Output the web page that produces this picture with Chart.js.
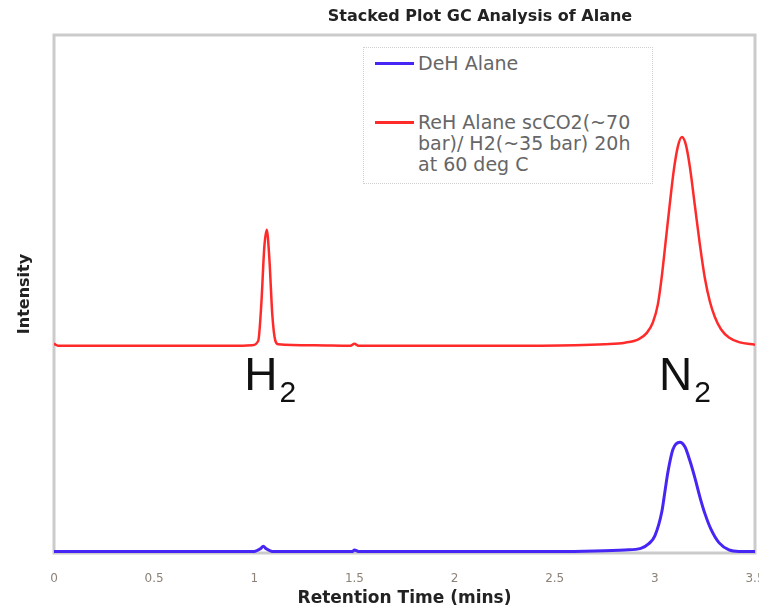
<!DOCTYPE html>
<html lang="en">
<head>
    <meta charset="UTF-8">
    <title>Stacked Plot GC Analysis of Alane</title>
    <script src="https://cdn.jsdelivr.net/npm/chart.js"></script>
    <style>
        * {
            margin: 0;
            padding: 0;
            box-sizing: border-box;
        }
        body {
            background: #fff;
            font-family: 'DejaVu Sans', Verdana, sans-serif;
        }
        .wrap {
            position: relative;
            width: 759px;
            height: 610px;
            overflow: hidden;
        }
        .legend {
            position: absolute;
            left: 363px;
            top: 47px;
            width: 290px;
            height: 137px;
            border: 1px dotted #cfcfcf;
            background: #fff;
            padding: 5px 0 0 11px;
        }
        .legend .item {
            display: flex;
            align-items: flex-start;
            color: #666;
            font-size: 19px;
            line-height: 21px;
            white-space: pre-line;
        }
        .legend .item + .item {
            margin-top: 38px;
        }
        .legend .swatch {
            width: 39px;
            height: 3px;
            margin: 9px 4px 0 0;
            flex: none;
        }
    </style>
</head>
<body>
    <div class="wrap">
        <canvas id="gcChart" width="759" height="610"></canvas>
        <div class="legend" id="legend"></div>
    </div>

    <script>
        // retention time (mins) / intensity
        const dehTimes = [0, 0.5, 1.0, 1.03, 1.045, 1.06, 1.09, 1.3, 1.49, 1.5, 1.52, 2.0, 2.5, 2.7, 2.85,
            2.93, 2.97, 3.0, 3.035, 3.05, 3.065, 3.09, 3.125, 3.15, 3.175, 3.2, 3.225, 3.25, 3.28, 3.32,
            3.37, 3.42, 3.5];
        const dehIntensity = [0.3, 0.3, 0.3, 0.8, 1.3, 0.8, 0.3, 0.3, 0.3, 0.6, 0.3, 0.3, 0.3, 0.4, 0.6,
            0.9, 1.8, 3.3, 8, 11.8, 15.6, 20, 21.4, 20.5, 17.8, 14.5, 10.8, 7.6, 4.6, 2.0,
            0.6, 0.3, 0.3];

        const rehTimes = [0, 0.02, 0.3, 0.6, 0.9, 0.99, 1.02, 1.035, 1.05, 1.062, 1.075, 1.09, 1.105, 1.12,
            1.3, 1.48, 1.5, 1.52, 1.8, 2.2, 2.6, 2.75, 2.85, 2.92, 2.96, 2.99, 3.015, 3.035, 3.055, 3.075,
            3.095, 3.115, 3.135, 3.155, 3.175, 3.2, 3.225, 3.25, 3.275, 3.3, 3.33, 3.37, 3.42, 3.5];
        const rehIntensity = [40.4, 40, 40, 40, 40, 40.1, 41, 48, 59, 62.4, 57, 46, 41, 40.3,
            40.1, 40, 40.4, 40, 40, 40, 40.1, 40.3, 40.6, 41.3, 42.5, 44.5, 48, 53.5, 60.5, 67.5,
            74, 78.5, 80.3, 78.8, 74.5, 67, 59.5, 53, 48.5, 45.5, 43.2, 41.6, 40.7, 40.2];

        const xTicks = [0, 0.5, 1, 1.5, 2, 2.5, 3, 3.5];
        const peakNames = [['H', '2'], ['N', '2']];
        const peakTimes = [1.06, 3.13];

        function toPoints(xs, ys) {
            return xs.map((x, i) => ({ x: x, y: ys[i] }));
        }

        const frameAndText = {
            id: 'frameAndText',
            beforeDatasetsDraw(chart) {
                const { ctx, chartArea } = chart;
                ctx.save();
                ctx.strokeStyle = '#cbcbcb';
                ctx.lineWidth = 3;
                ctx.strokeRect(chartArea.left, chartArea.top, chartArea.width, chartArea.height);
                ctx.restore();
            },
            afterDraw(chart) {
                const { ctx } = chart;
                const xs = chart.scales.x;
                const ys = chart.scales.y;
                ctx.save();
                ctx.fillStyle = '#222';
                ctx.font = 'bold 16px "DejaVu Sans"';
                ctx.textAlign = 'center';
                ctx.textBaseline = 'middle';
                ctx.fillText('Stacked Plot GC Analysis of Alane', 480, 17);

                // peak labels under the red baseline
                const base = ys.getPixelForValue(40);
                ctx.fillStyle = '#111';
                ctx.textBaseline = 'alphabetic';
                peakNames.forEach((name, i) => {
                    const cx = xs.getPixelForValue(peakTimes[i]);
                    ctx.font = '46px "Liberation Sans"';
                    const w1 = ctx.measureText(name[0]).width;
                    ctx.font = '30px "Liberation Sans"';
                    const w2 = ctx.measureText(name[1]).width;
                    const left = cx - (w1 + w2) / 2 + 3;
                    ctx.textAlign = 'left';
                    ctx.font = '46px "Liberation Sans"';
                    ctx.fillText(name[0], left, base + 44);
                    ctx.font = '30px "Liberation Sans"';
                    ctx.fillText(name[1], left + w1 + 2, base + 56);
                });
                ctx.restore();
            }
        };

        const chart = new Chart(document.getElementById('gcChart').getContext('2d'), {
            type: 'line',
            data: {
                datasets: [{
                    label: 'DeH Alane',
                    data: toPoints(dehTimes, dehIntensity),
                    borderColor: '#4626f4',
                    borderWidth: 3,
                    cubicInterpolationMode: 'monotone'
                }, {
                    label: 'ReH Alane scCO2(~70\nbar)/ H2(~35 bar) 20h\nat 60 deg C',
                    data: toPoints(rehTimes, rehIntensity),
                    borderColor: '#ff2b2b',
                    borderWidth: 2.5,
                    cubicInterpolationMode: 'monotone'
                }]
            },
            options: {
                responsive: false,
                animation: false,
                layout: { padding: { top: 35, right: 4, left: 0, bottom: 0 } },
                elements: { point: { radius: 0 } },
                plugins: {
                    legend: { display: false },
                    tooltip: { enabled: false }
                },
                scales: {
                    x: {
                        type: 'linear',
                        min: 0,
                        max: 3.5,
                        afterBuildTicks: (scale) => {
                            scale.ticks = xTicks.map(v => ({ value: v }));
                        },
                        afterFit: (scale) => {
                            scale.height = 57;
                            scale.paddingLeft = 0;
                            scale.paddingRight = 0;
                        },
                        grid: { display: false },
                        border: { display: false },
                        ticks: {
                            color: '#8c8278',
                            padding: 11,
                            maxRotation: 0,
                            callback: (v) => String(v),
                            font: { family: 'DejaVu Sans', size: 12 }
                        },
                        title: {
                            display: true,
                            text: 'Retention Time (mins)',
                            color: '#222',
                            padding: { top: 0, bottom: 1 },
                            font: { family: 'DejaVu Sans', size: 17, weight: 'bold' }
                        }
                    },
                    y: {
                        min: 0,
                        max: 100,
                        afterFit: (scale) => { scale.width = 54; },
                        grid: { display: false },
                        border: { display: false },
                        ticks: { display: false },
                        title: {
                            display: true,
                            text: 'Intensity',
                            color: '#222',
                            padding: { top: 15, bottom: 0 },
                            font: { family: 'DejaVu Sans', size: 16, weight: 'bold' }
                        }
                    }
                }
            },
            plugins: [frameAndText]
        });

        // legend box built from the datasets
        const legend = document.getElementById('legend');
        chart.data.datasets.forEach(ds => {
            const item = document.createElement('div');
            item.className = 'item';
            item.innerHTML = `<span class="swatch" style="background:${ds.borderColor}"></span><span></span>`;
            item.lastChild.textContent = ds.label;
            legend.appendChild(item);
        });
    </script>
</body>
</html>
